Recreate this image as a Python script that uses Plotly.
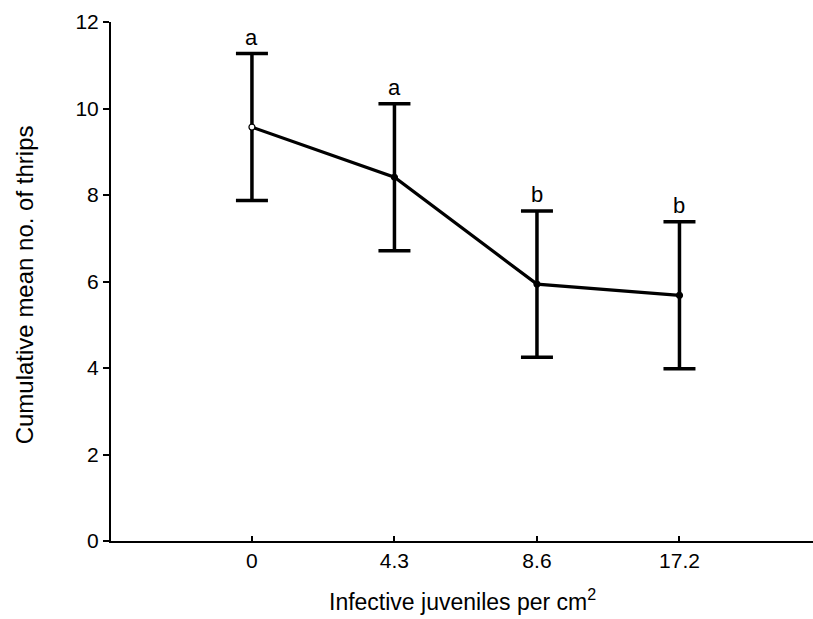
import plotly.graph_objects as go

categories = ["0", "4.3", "8.6", "17.2"]
means = [9.57, 8.41, 5.94, 5.68]
errors = [1.70, 1.70, 1.69, 1.70]
letters = ["a", "a", "b", "b"]
marker_fill = ["white", "black", "black", "black"]

xs = list(range(len(categories)))
FONT = "Liberation Sans, Arial, sans-serif"

fig = go.Figure()
fig.add_trace(go.Scatter(
    x=xs, y=means, mode="lines",
    line=dict(color="black", width=3.2),
    error_y=dict(type="data", array=errors, visible=True, color="black",
                 thickness=3.5, width=16),
    showlegend=False, hoverinfo="skip"))
fig.add_trace(go.Scatter(
    x=xs, y=means, mode="markers",
    marker=dict(size=6, color=marker_fill, line=dict(color="black", width=1.2)),
    showlegend=False))

for x, m, e, t in zip(xs, means, errors, letters):
    fig.add_annotation(x=x, y=m + e, text=t, showarrow=False, yanchor="bottom",
                       yshift=2, font=dict(family=FONT, size=22, color="black"))

# axis titles
fig.add_annotation(xref="paper", yref="paper", x=0.5, y=-0.113,
                   xanchor="center", yanchor="middle", showarrow=False,
                   text="Infective juveniles per cm<sup>2</sup>",
                   font=dict(family=FONT, size=23, color="black"))
fig.add_annotation(xref="paper", yref="paper", x=-0.1229, y=0.494,
                   xanchor="center", yanchor="middle", showarrow=False, textangle=-90,
                   text="Cumulative mean no. of thrips",
                   font=dict(family=FONT, size=24, color="black"))

fig.update_layout(
    width=813, height=619,
    margin=dict(l=111, r=0, t=22, b=78),
    paper_bgcolor="white", plot_bgcolor="white",
    font=dict(family=FONT, color="black"),
    xaxis=dict(
        range=[-0.989, 3.937], tickmode="array", tickvals=xs, ticktext=categories,
        showline=True, linecolor="black", linewidth=2, showgrid=False, zeroline=False,
        ticks="inside", ticklen=5, tickcolor="black", tickwidth=1.5,
        tickfont=dict(size=21, family=FONT),
    ),
    yaxis=dict(
        range=[0, 12], tickmode="array", tickvals=[0, 2, 4, 6, 8, 10, 12],
        showline=True, linecolor="black", linewidth=2, showgrid=False, zeroline=False,
        ticks="outside", ticklen=6, tickcolor="black", tickwidth=1.5,
        tickfont=dict(size=21, family=FONT),
    ),
)

fig.write_html("out.html")
